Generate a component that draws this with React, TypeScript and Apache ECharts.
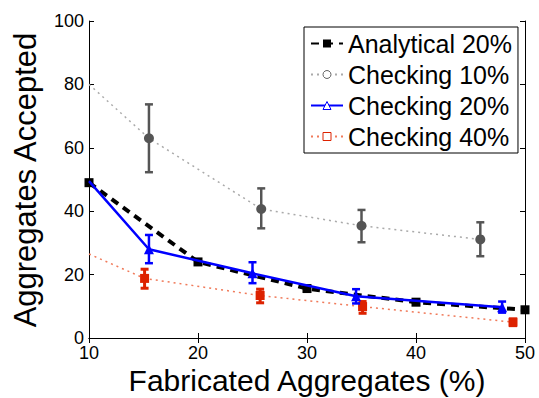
import React, { useEffect, useRef } from "react";
import * as echarts from "echarts";

const xTicks = [10, 20, 30, 40, 50];
const yTicks = [0, 20, 40, 60, 80, 100];

const analyticalX = [10, 20, 30, 40, 50];
const analyticalY = [49, 24, 15.6, 11.3, 8.9];

const check10X = [10, 15.5, 25.8, 35.0, 45.9];
const check10Y = [80, 63, 40.7, 35.4, 31.1];
const check10Lo = [null, 52.3, 34.6, 30.2, 25.8];
const check10Hi = [null, 73.7, 47.2, 40.4, 36.5];

const check20X = [10, 15.5, 25.0, 34.5, 47.9];
const check20Y = [49.5, 28.0, 20.4, 13.2, 9.7];
const check20Lo = [null, 23.6, 17.3, 10.9, 8.0];
const check20Hi = [null, 32.5, 23.9, 15.4, 11.5];

const check40X = [10, 15.1, 25.7, 35.1, 48.9];
const check40Y = [26.5, 18.8, 13.4, 9.9, 5.0];
const check40Lo = [null, 15.7, 11.1, 7.8, 3.9];
const check40Hi = [null, 21.7, 15.4, 11.5, 6.0];

const FONT = "Liberation Sans, Arial, Helvetica, sans-serif";

function pts(xs: number[], ys: number[], hideFirst: boolean) {
  return xs.map((x, i) =>
    hideFirst && i === 0 ? { value: [x, ys[i]], symbol: "none" } : { value: [x, ys[i]] }
  );
}

function errData(xs: number[], lo: (number | null)[], hi: (number | null)[]) {
  const out: number[][] = [];
  xs.forEach((x, i) => {
    if (lo[i] != null && hi[i] != null) out.push([x, lo[i] as number, hi[i] as number]);
  });
  return out;
}

function errSeries(name: string, data: number[][], color: string, width: number, z: number) {
  return {
    type: "custom",
    name: name + " err",
    z,
    silent: true,
    encode: { x: 0, y: [1, 2] },
    data,
    renderItem: (params: any, api: any) => {
      const x = api.value(0);
      const lo = api.coord([x, api.value(1)]);
      const hi = api.coord([x, api.value(2)]);
      const cw = 4;
      const style = { stroke: color, lineWidth: width };
      return {
        type: "group",
        children: [
          { type: "line", shape: { x1: lo[0], y1: lo[1], x2: hi[0], y2: hi[1] }, style },
          { type: "line", shape: { x1: lo[0] - cw, y1: lo[1], x2: lo[0] + cw, y2: lo[1] }, style },
          { type: "line", shape: { x1: hi[0] - cw, y1: hi[1], x2: hi[0] + cw, y2: hi[1] }, style },
        ],
      };
    },
  };
}

export default function App() {
  const ref = useRef<HTMLDivElement>(null);
  useEffect(() => {
    if (!ref.current) return;
    const chart = echarts.init(ref.current, null, { renderer: "svg" });
    const axisCommon = {
      axisLine: { show: true, lineStyle: { color: "#000", width: 1 } },
      axisTick: { show: true, inside: true, length: 5, lineStyle: { color: "#000" } },
      splitLine: { show: false },
    };
    chart.setOption({
      animation: false,
      backgroundColor: "#fff",
      grid: { left: 89, right: 14, top: 21, bottom: 60 },
      xAxis: [
        {
          type: "value",
          min: xTicks[0],
          max: xTicks[xTicks.length - 1],
          interval: 10,
          ...axisCommon,
          axisLabel: { color: "#000", fontSize: 18, fontFamily: FONT, margin: 6 },
        },
        {
          type: "value",
          position: "top",
          min: xTicks[0],
          max: xTicks[xTicks.length - 1],
          interval: 10,
          ...axisCommon,
          axisLabel: { show: false },
        },
      ],
      yAxis: [
        {
          type: "value",
          min: yTicks[0],
          max: yTicks[yTicks.length - 1],
          interval: 20,
          ...axisCommon,
          axisLabel: { color: "#000", fontSize: 18, fontFamily: FONT, margin: 5 },
        },
        {
          type: "value",
          position: "right",
          min: yTicks[0],
          max: yTicks[yTicks.length - 1],
          interval: 20,
          ...axisCommon,
          axisLabel: { show: false },
        },
      ],
      legend: {
        orient: "vertical",
        left: 304,
        top: 27,
        backgroundColor: "#fff",
        borderColor: "#000",
        borderWidth: 1,
        borderRadius: 0,
        padding: [4, 6, 4, 6],
        itemGap: 6,
        itemWidth: 32,
        itemHeight: 10,
        textStyle: { color: "#000", fontSize: 25, fontFamily: FONT },
        data: [
          { name: "Analytical 20%" },
          { name: "Checking 10%", itemStyle: { color: "#fff", borderColor: "#666", borderWidth: 1 } },
          { name: "Checking 20%", itemStyle: { color: "#fff", borderColor: "#0000ff", borderWidth: 1 } },
          { name: "Checking 40%", itemStyle: { color: "#fff", borderColor: "#dd2200", borderWidth: 1 } },
        ],
      },
      graphic: [
        {
          type: "text",
          x: 307,
          y: 380,
          style: {
            text: "Fabricated Aggregates (%)",
            font: `30px ${FONT}`,
            fill: "#000",
            textAlign: "center",
            textVerticalAlign: "middle",
          },
        },
        {
          type: "text",
          x: 25,
          y: 180,
          rotation: Math.PI / 2,
          style: {
            text: "Aggregates Accepted",
            font: `31px ${FONT}`,
            fill: "#000",
            textAlign: "center",
            textVerticalAlign: "middle",
          },
        },
      ],
      series: [
        {
          type: "line",
          name: "Checking 40%",
          z: 2,
          data: pts(check40X, check40Y, true),
          symbol: "rect",
          symbolSize: 9,
          itemStyle: { color: "#dd2200" },
          lineStyle: { color: "#f07a5a", width: 1.5, type: [2, 4] },
        },
        errSeries("Checking 40%", errData(check40X, check40Lo, check40Hi), "#dd2200", 3, 3),
        {
          type: "line",
          name: "Checking 10%",
          z: 2,
          data: pts(check10X, check10Y, true),
          symbol: "circle",
          symbolSize: 10,
          itemStyle: { color: "#555555" },
          lineStyle: { color: "#aaaaaa", width: 1.5, type: [2, 4] },
        },
        errSeries("Checking 10%", errData(check10X, check10Lo, check10Hi), "#555555", 2.5, 3),
        {
          type: "line",
          name: "Analytical 20%",
          z: 4,
          data: pts(analyticalX, analyticalY, false),
          symbol: "rect",
          symbolSize: 9,
          itemStyle: { color: "#000" },
          lineStyle: { color: "#000", width: 4, type: [8, 6] },
        },
        {
          type: "line",
          name: "Checking 20%",
          z: 5,
          data: pts(check20X, check20Y, true),
          symbol: "triangle",
          symbolSize: 10,
          itemStyle: { color: "#0000ff" },
          lineStyle: { color: "#0000ff", width: 2.5 },
        },
        errSeries("Checking 20%", errData(check20X, check20Lo, check20Hi), "#0000ff", 2.5, 6),
      ],
    });
    return () => chart.dispose();
  }, []);
  return (
    <div
      ref={ref}
      style={{ position: "fixed", left: 0, top: 0, width: 539, height: 398 }}
    />
  );
}
